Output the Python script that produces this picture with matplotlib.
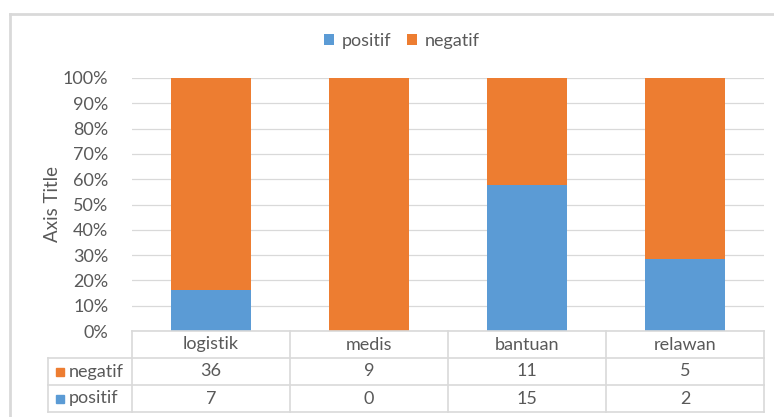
import numpy as np
import matplotlib.pyplot as plt
from matplotlib.patches import Rectangle
from matplotlib.lines import Line2D

plt.rcParams['font.family'] = ['Lato', 'DejaVu Sans']

# data
categories = ['logistik', 'medis', 'bantuan', 'relawan']
positif = [7, 0, 15, 2]
negatif = [36, 9, 11, 5]
yticks = [0, 10, 20, 30, 40, 50, 60, 70, 80, 90, 100]

blue = '#5B9BD5'
orange = '#ED7D31'
txt = '#595959'
grid = '#D9D9D9'
fs = 13

W, H = 774, 417
fig = plt.figure(figsize=(W / 100, H / 100), dpi=100)

def fx(px):
    return px / W

def fy(py):
    return 1 - py / H

# plot area in pixel coords
L, R, T, B = 132, 764, 78, 331
ax = fig.add_axes([fx(L), fy(B), fx(R - L), (B - T) / H])

pos = np.array(positif, dtype=float)
neg = np.array(negatif, dtype=float)
tot = pos + neg
pos_pct = pos / tot * 100
neg_pct = neg / tot * 100
x = np.arange(len(categories))

ax.bar(x, pos_pct, width=0.51, color=blue, label='positif', zorder=3)
ax.bar(x, neg_pct, bottom=pos_pct, width=0.51, color=orange, label='negatif', zorder=3)

ax.set_xlim(-0.5, len(categories) - 0.5)
ax.set_ylim(0, 100)
ax.set_yticks(yticks)
ax.set_yticklabels(['{}%'.format(v) for v in yticks])
ax.tick_params(axis='y', length=0, pad=17, labelsize=fs, labelcolor=txt)
ax.set_xticks([])
for s in ax.spines.values():
    s.set_visible(False)
ax.yaxis.grid(True, color=grid, lw=0.9, zorder=0)
ax.set_axisbelow(True)
ax.set_ylabel('Axis Title', color=txt, fontsize=fs + 0.5)
ax.yaxis.set_label_coords((61 - L) / (R - L), 0.5)

# legend at top
ax.legend(loc='center', bbox_to_anchor=(fx(402), fy(41)), bbox_transform=fig.transFigure,
          ncol=2, frameon=False, fontsize=fs, labelcolor=txt,
          handlelength=0.55, handleheight=0.55, handletextpad=0.4, columnspacing=0.9)

# data table under the chart
rows = [331, 358, 385, 412]
col_edges = [L + (R - L) * i / len(categories) for i in range(len(categories) + 1)]
tl = 48
lc = dict(color=grid, lw=1.2, transform=fig.transFigure)
fig.add_artist(Line2D([fx(L), fx(R)], [fy(rows[0])] * 2, **lc))
for r in rows[1:]:
    fig.add_artist(Line2D([fx(tl), fx(R)], [fy(r)] * 2, **lc))
fig.add_artist(Line2D([fx(tl)] * 2, [fy(rows[1]), fy(rows[3])], **lc))
for c in col_edges:
    fig.add_artist(Line2D([fx(c)] * 2, [fy(rows[0]), fy(rows[3])], **lc))

def cy(i):
    return fy((rows[i] + rows[i + 1]) / 2)

for i, cat in enumerate(categories):
    cx = fx((col_edges[i] + col_edges[i + 1]) / 2)
    fig.text(cx, cy(0), cat, ha='center', va='center', color=txt, fontsize=fs)
    fig.text(cx, cy(1), str(negatif[i]), ha='center', va='center', color=txt, fontsize=fs)
    fig.text(cx, cy(2), str(positif[i]), ha='center', va='center', color=txt, fontsize=fs)

for i, (name, col) in enumerate([('negatif', orange), ('positif', blue)]):
    yc = (rows[i + 1] + rows[i + 2]) / 2
    fig.add_artist(Rectangle((fx(56), fy(yc + 4)), fx(8), 8 / H, color=col,
                             transform=fig.transFigure))
    fig.text(fx(69), fy(yc), name, ha='left', va='center', color=txt, fontsize=fs)

# chart area border (cropped at right/bottom)
bc = dict(color=grid, lw=2, transform=fig.transFigure)
fig.add_artist(Line2D([fx(10), 1], [fy(13.5)] * 2, **bc))
fig.add_artist(Line2D([fx(10)] * 2, [fy(13.5), 0], **bc))

fig.savefig('out.png', dpi=100)
